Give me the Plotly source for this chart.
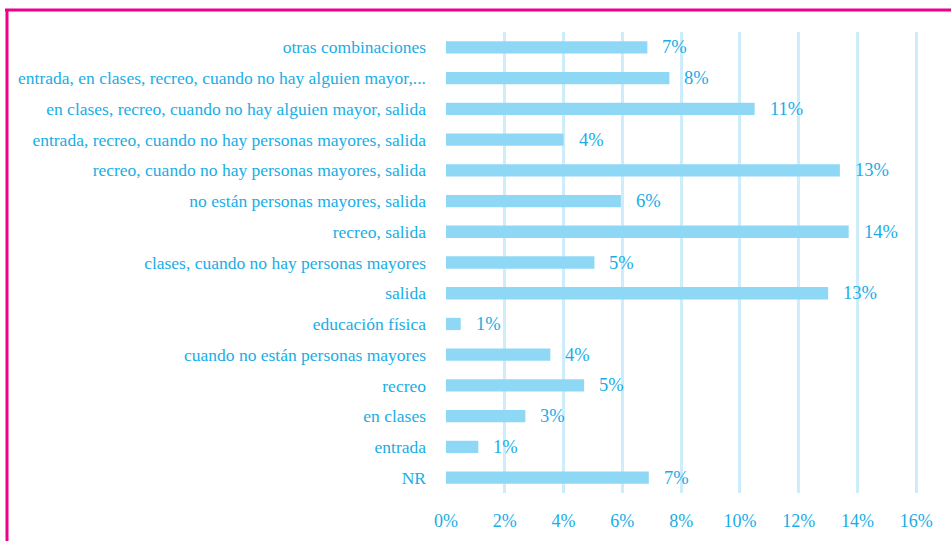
import plotly.graph_objects as go

categories = [
    "otras combinaciones",
    "entrada, en clases, recreo, cuando no hay alguien mayor,...",
    "en clases, recreo, cuando no hay alguien mayor, salida",
    "entrada, recreo, cuando no hay personas mayores, salida",
    "recreo, cuando no hay personas mayores, salida",
    "no están personas mayores, salida",
    "recreo, salida",
    "clases, cuando no hay personas mayores",
    "salida",
    "educación física",
    "cuando no están personas mayores",
    "recreo",
    "en clases",
    "entrada",
    "NR",
]
values = [6.85, 7.6, 10.5, 4.0, 13.4, 5.95, 13.7, 5.05, 13.0, 0.5, 3.55, 4.7, 2.7, 1.1, 6.9]
value_labels = ["7%", "8%", "11%", "4%", "13%", "6%", "14%", "5%", "13%", "1%", "4%", "5%", "3%", "1%", "7%"]
tick_values = [0, 2, 4, 6, 8, 10, 12, 14, 16]
tick_labels = ["0%", "2%", "4%", "6%", "8%", "10%", "12%", "14%", "16%"]

W, H = 951, 541
ML, MR, MT, MB = 446, 20, 32, 48
FONT = "Liberation Serif"
TXT = "#19ade6"
BAR = "#8fd8f5"
GRID = "#cdedfb"
MAG = "#ec008c"

fig = go.Figure()
fig.add_trace(go.Bar(
    y=categories, x=values, orientation="h",
    marker=dict(color=BAR, line=dict(width=0)),
    width=0.4, hoverinfo="skip",
))

for c, v, t in zip(categories, values, value_labels):
    fig.add_annotation(x=v, y=c, text=t, xanchor="left", yanchor="middle",
                       xshift=13, showarrow=False,
                       font=dict(family=FONT, size=18.5, color=TXT))

pw = W - ML - MR
ph = H - MT - MB
def px_x(p):
    return (p - ML) / pw
def px_y(p):
    return (H - MB - p) / ph

fig.add_shape(type="line", xref="paper", yref="paper",
              x0=px_x(5), x1=px_x(W + 5), y0=px_y(10), y1=px_y(10),
              line=dict(color=MAG, width=3))
fig.add_shape(type="line", xref="paper", yref="paper",
              x0=px_x(7), x1=px_x(7), y0=px_y(10), y1=px_y(H + 5),
              line=dict(color=MAG, width=3))

fig.update_layout(
    width=W, height=H,
    margin=dict(l=ML, r=MR, t=MT, b=MB, autoexpand=False),
    plot_bgcolor="white", paper_bgcolor="white",
    showlegend=False,
    bargap=0.6,
    xaxis=dict(range=[0, 16.5], tickvals=tick_values, ticktext=tick_labels,
               showgrid=True, gridcolor=GRID, gridwidth=3,
               zeroline=False, showline=False, ticks="",
               ticklabelstandoff=15, automargin=False,
               tickfont=dict(family=FONT, size=18, color=TXT)),
    yaxis=dict(categoryorder="array", categoryarray=categories[::-1],
               range=[-0.5, 14.5], showgrid=False, zeroline=False,
               showline=False, ticks="", ticklabelstandoff=19,
               automargin=False,
               tickfont=dict(family=FONT, size=17.5, color=TXT)),
)

fig.write_html("out.html",
               config={"displayModeBar": False},
               post_script="document.body.style.margin='0px';document.body.style.overflow='hidden';")
